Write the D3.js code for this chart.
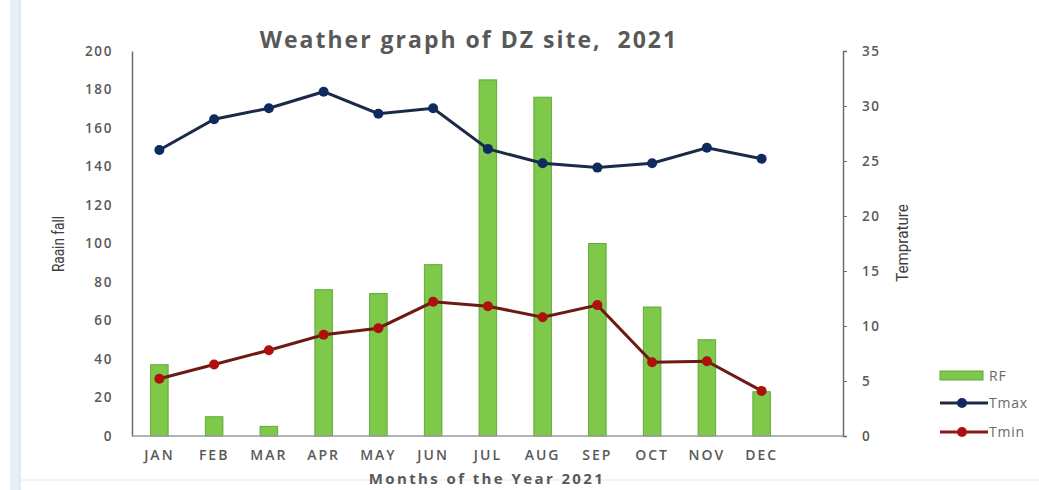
<!DOCTYPE html>
<html>
<head>
<meta charset="utf-8">
<script src="https://cdn.jsdelivr.net/npm/d3@7"></script>
<style>
  body { margin: 0; background: #fff; }
  svg { display: block; font-family: "Open Sans", "DejaVu Sans", sans-serif; }
  .tick-lbl { fill: #595959; font-size: 13.5px; font-weight: 600; letter-spacing: 1.6px; }
  .axis-title { fill: #404040; font-family: "Liberation Sans Narrow", "Roboto", sans-serif; font-size: 16px; }
</style>
</head>
<body>
<svg id="chart" width="1039" height="490"></svg>
<script>
// Weather graph: monthly rainfall bars (left axis) + Tmax / Tmin lines (right axis)

const MONTHS = ["JAN","FEB","MAR","APR","MAY","JUN","JUL","AUG","SEP","OCT","NOV","DEC"];
const RF   = [37, 10, 5, 76, 74, 89, 185, 176, 100, 67, 50, 23];
const TMAX = [26.0, 28.8, 29.8, 31.3, 29.3, 29.8, 26.1, 24.8, 24.4, 24.8, 26.2, 25.2];
const TMIN = [5.2, 6.5, 7.8, 9.2, 9.8, 12.2, 11.8, 10.8, 11.9, 6.7, 6.8, 4.1];
const RF_TICKS = [0, 20, 40, 60, 80, 100, 120, 140, 160, 180, 200];
const T_TICKS  = [0, 5, 10, 15, 20, 25, 30, 35];

const svg = d3.select("#chart");

// frame bits from the screenshot: light stripe at left, faint line at bottom
svg.append("rect").attr("x", 10).attr("y", 0).attr("width", 10).attr("height", 490).attr("fill", "#e8eef7");
svg.append("line").attr("x1", 20).attr("x2", 20).attr("y1", 0).attr("y2", 490).attr("stroke", "#d4d8de");
svg.append("line").attr("x1", 20).attr("x2", 1039).attr("y1", 480).attr("y2", 480).attr("stroke", "#e4e6ea");

const plotLeft = 132, plotRight = 789, axisRight = 843, plotTop = 51, plotBottom = 436;

const x = d3.scaleBand().domain(MONTHS).range([plotLeft, plotRight]).paddingInner(0.68).paddingOuter(0.34);
const yRF = d3.scaleLinear().domain([0, 200]).range([plotBottom, plotTop]);
const yT  = d3.scaleLinear().domain([0, 35]).range([plotBottom, plotTop]);
const cx = m => x(m) + x.bandwidth() / 2;

// title
svg.append("text").attr("x", 469).attr("y", 48).attr("text-anchor", "middle")
    .attr("fill", "#595959").attr("font-size", 23).attr("font-weight", 700)
    .attr("letter-spacing", 2).attr("xml:space", "preserve")
    .text("Weather graph of DZ site,  2021");

// d3 axes put their own font on the group; drop it so the css applies
function styleAxis(g){
  g.attr("font-family", null).attr("font-size", null);
  g.select(".domain").attr("stroke", "#6b6b6b").attr("stroke-width", 1.5);
  g.selectAll(".tick line").attr("stroke", "#6b6b6b");
  g.selectAll(".tick text").attr("class", "tick-lbl");
}

// left axis: line + labels, no ticks
svg.append("g").attr("transform", `translate(${plotLeft},0)`)
    .call(d3.axisLeft(yRF).tickValues(RF_TICKS).tickSize(0).tickPadding(19))
    .call(styleAxis);

// right axis: outward ticks
svg.append("g").attr("transform", `translate(${axisRight},0)`)
    .call(d3.axisRight(yT).tickValues(T_TICKS).tickSizeInner(4).tickSizeOuter(4).tickPadding(15))
    .call(styleAxis);

// bars
svg.append("g").selectAll("rect").data(MONTHS).join("rect")
    .attr("x", m => x(m)).attr("width", x.bandwidth())
    .attr("y", (m, i) => yRF(RF[i])).attr("height", (m, i) => plotBottom - yRF(RF[i]))
    .attr("fill", "#7ec84a").attr("stroke", "#62a83a").attr("stroke-width", 1);

// bottom axis
const gB = svg.append("g").attr("transform", `translate(0,${plotBottom})`)
    .call(d3.axisBottom(x).tickSize(0).tickPadding(14))
    .call(styleAxis);
gB.select(".domain").remove();
gB.selectAll(".tick text").style("font-size", "14px").style("letter-spacing", "2px");
svg.append("line").attr("x1", plotLeft).attr("x2", axisRight).attr("y1", plotBottom).attr("y2", plotBottom)
    .attr("stroke", "#9a9a9a").attr("stroke-width", 1.5);

// lines
const tLine = d3.line().x((d, i) => cx(MONTHS[i])).y(d => yT(d));
function series(vals, lineCol, dotCol){
  const g = svg.append("g");
  g.append("path").datum(vals).attr("d", tLine).attr("fill", "none")
      .attr("stroke", lineCol).attr("stroke-width", 3);
  g.selectAll("circle").data(vals).join("circle")
      .attr("cx", (d, i) => cx(MONTHS[i])).attr("cy", d => yT(d)).attr("r", 5)
      .attr("fill", dotCol);
}
series(TMAX, "#1b2a47", "#0f2a5e");
series(TMIN, "#6e1a14", "#b0100c");

// axis titles (narrow lettering in the original, squeeze along the text)
svg.append("text").attr("class", "axis-title")
    .attr("transform", "translate(64,244) rotate(-90) scale(0.85,1)").attr("text-anchor", "middle")
    .text("Raain fall");
svg.append("text").attr("class", "axis-title")
    .attr("transform", "translate(908,243) rotate(-90) scale(0.95,1)").attr("text-anchor", "middle")
    .text("Temprature");
svg.append("text").attr("x", 487).attr("y", 484).attr("text-anchor", "middle")
    .attr("fill", "#595959").attr("font-size", 15).attr("font-weight", 700)
    .attr("letter-spacing", 2.4)
    .text("Months of the Year 2021");

// legend
const lg = svg.append("g").attr("font-size", 14).attr("fill", "#6a6a6a").attr("letter-spacing", 0.8);
lg.append("rect").attr("x", 940).attr("y", 371).attr("width", 43).attr("height", 9)
    .attr("fill", "#7ec84a").attr("stroke", "#62a83a");
lg.append("text").attr("x", 989).attr("y", 381).text("RF");
[["Tmax", 403, "#1b2a47", "#0f2a5e"], ["Tmin", 432, "#8a1a14", "#b0100c"]].forEach(([name, y, lc, dc]) => {
  lg.append("line").attr("x1", 940).attr("x2", 988).attr("y1", y).attr("y2", y)
      .attr("stroke", lc).attr("stroke-width", 3);
  lg.append("circle").attr("cx", 962).attr("cy", y).attr("r", 5).attr("fill", dc);
  lg.append("text").attr("x", 989).attr("y", y + 5).text(name);
});
</script>
</body>
</html>
